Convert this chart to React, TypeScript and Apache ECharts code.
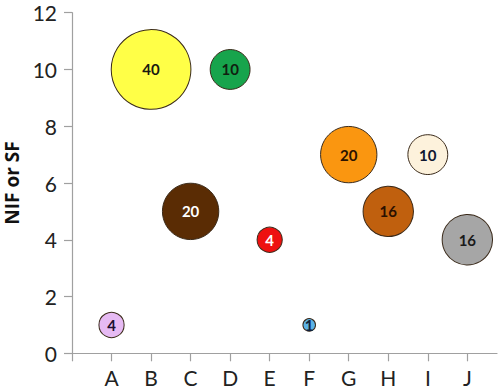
import React, { useEffect, useRef } from "react";
import * as echarts from "echarts";

const categories = ["A", "B", "C", "D", "E", "F", "G", "H", "I", "J"];
const yValues = [1, 10, 5, 10, 4, 1, 7, 5, 7, 4];
const sizes = [4, 40, 20, 10, 4, 1, 20, 16, 10, 16];
const fillColors = [
  "#E6BAF3", "#FFFF47", "#5A2C04", "#17A44C", "#EE1010",
  "#5CB3E6", "#FA9610", "#C0600E", "#FDF2DC", "#A6A6A6",
];
const labelColors = [
  "#1c1030", "#1a1a10", "#ffffff", "#102010", "#ffffff",
  "#10203a", "#2a1200", "#2a1000", "#101830", "#1a1a1a",
];
const yTicks = [0, 2, 4, 6, 8, 10, 12];

export default function App() {
  const ref = useRef<HTMLDivElement>(null);
  useEffect(() => {
    document.body.style.margin = "0";
    const chart = echarts.init(ref.current!, null, { renderer: "svg" });
    const data = categories.map((c, i) => ({
      value: [i + 1, yValues[i], sizes[i]],
      itemStyle: { color: fillColors[i] },
      label: { color: labelColors[i] },
    }));
    chart.setOption({
      animation: false,
      grid: {
        left: 72,
        right: 3,
        top: 12.7,
        bottom: 36.7,
        containLabel: false,
        outerBoundsMode: "none",
      },
      xAxis: {
        type: "value",
        min: 0,
        max: 10.75,
        interval: 1,
        splitLine: { show: false },
        axisLine: { lineStyle: { color: "#A0A0A0", width: 1.2 } },
        axisTick: {
          show: true,
          length: 8,
          lineStyle: { color: "#A0A0A0", width: 1.2 },
          customValues: [0, 1, 2, 3, 4, 5, 6, 7, 8, 9, 10],
        },
        axisLabel: {
          customValues: [1, 2, 3, 4, 5, 6, 7, 8, 9, 10],
          formatter: (v: number) => categories[Math.round(v) - 1] ?? "",
          fontFamily: "Lato",
          fontSize: 21,
          color: "#222",
          margin: 14,
        },
      },
      yAxis: {
        type: "value",
        min: 0,
        max: 12,
        interval: 2,
        name: "NIF or SF",
        nameLocation: "middle",
        nameGap: 47,
        nameTextStyle: {
          fontFamily: "Open Sans",
          fontWeight: "bold",
          fontSize: 19,
          color: "#111",
        },
        splitLine: { show: false },
        axisLine: { show: true, lineStyle: { color: "#A0A0A0", width: 1.2 } },
        axisTick: {
          show: true,
          length: 8,
          lineStyle: { color: "#A0A0A0", width: 1.2 },
          customValues: yTicks,
        },
        axisLabel: {
          fontFamily: "Lato",
          fontSize: 21,
          color: "#222",
          margin: 15,
        },
      },
      series: [
        {
          type: "scatter",
          data,
          symbol: "circle",
          symbolSize: (val: number[]) => 12.6 * Math.sqrt(val[2]),
          itemStyle: { borderColor: "#3a2a1a", borderWidth: 1, opacity: 1 },
          label: {
            show: true,
            position: "inside",
            formatter: (p: any) => String(p.value[2]),
            fontFamily: "Lato",
            fontWeight: "bold",
            fontSize: 15,
          },
        },
      ],
    });
    return () => chart.dispose();
  }, []);
  return <div ref={ref} style={{ width: 500, height: 390 }} />;
}
